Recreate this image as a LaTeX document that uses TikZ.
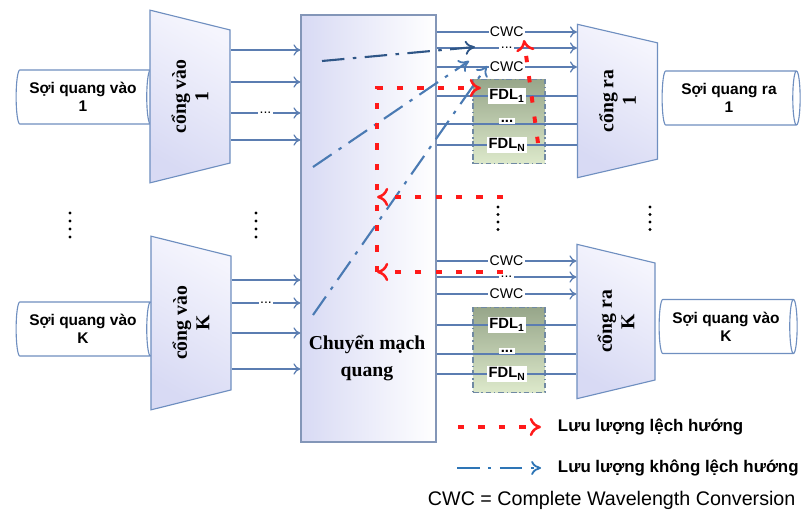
\documentclass[tikz,border=0pt]{standalone}
\usepackage{fontspec}
\setmainfont{Liberation Serif}
\setsansfont{Liberation Sans}
\usetikzlibrary{shapes.geometric,arrows.meta}
\definecolor{edge}{HTML}{6F8FC0}
\definecolor{wirec}{HTML}{5B7DB1}
\definecolor{lav}{HTML}{D8DAF4}
\definecolor{lavtop}{HTML}{F5F5FD}
\definecolor{swedge}{HTML}{8396B8}
\definecolor{fdltop}{HTML}{97A68A}
\definecolor{fdlbot}{HTML}{DDE9CB}
\definecolor{fdledge}{HTML}{7089A3}
\definecolor{deflred}{HTML}{FF1A1A}
\definecolor{trafblue}{HTML}{4A7AB3}
\definecolor{trafdark}{HTML}{2F5687}
\definecolor{legblue}{HTML}{2E75B6}
\begin{document}
\begin{tikzpicture}[x=0.025cm, y=-0.025cm,
  fibre/.style={cylinder, draw=edge, fill=white, line width=0.8pt, aspect=0.25,
    minimum width=1.35cm, minimum height=3.45cm, inner sep=0pt, align=center,
    font=\sffamily\bfseries\fontsize{11}{13}\selectfont},
  port/.style={trapezium, trapezium stretches=true, trapezium left angle=105,
    trapezium right angle=105, rotate=90, draw=edge, line width=0.8pt,
    top color=lavtop, bottom color=lav, shading angle=-30, minimum height=2cm, align=center,
    font=\bfseries\fontsize{14}{16}\selectfont},
  wire/.style={draw=wirec, line width=0.9pt},
  tip/.style={-{Computer Modern Rightarrow[length=5pt,width=8pt]}},
  lbl/.style={fill=white, inner sep=1pt, font=\sffamily\fontsize{10}{12}\selectfont},
  fdlbox/.style={draw=fdledge, line width=0.8pt, dash pattern=on 4pt off 2pt on 1pt off 2pt,
    top color=fdltop, bottom color=fdlbot, minimum width=1.8cm, minimum height=2.12cm},
  fdllbl/.style={fill=white, inner sep=1pt, font=\sffamily\bfseries\fontsize{10.5}{12}\selectfont},
  defl/.style={draw=deflred, line width=2.8pt, dash pattern=on 4.5pt off 10pt,
    -{Computer Modern Rightarrow[length=8pt,width=13pt,line width=1.8pt]}},
  undefl/.style={line width=1.5pt, dash pattern=on 16pt off 6pt on 2.5pt off 6pt,
    -{Computer Modern Rightarrow[length=7pt,width=10pt,line width=1.3pt]}},
  legtxt/.style={anchor=west, font=\sffamily\bfseries\fontsize{12}{14}\selectfont}]
\useasboundingbox (0,0) rectangle (804,512);

% optical switch
\node[draw=swedge, line width=0.8pt, left color=lav, right color=white,
  minimum width=3.375cm, minimum height=10.675cm] (sw) at (368.5,228.5) {};
\node[font=\bfseries\fontsize{14}{19}\selectfont, align=center] (swtext) at (367,358) {Chuyển mạch\\quang};

% input side
\node[fibre] (fin1) at (83,97) {Sợi quang vào\\1};
\node[fibre] (finK) at (83,329) {Sợi quang vào\\K};
\node[port, minimum width=4.325cm] (pin1) at (190,96.5) {cổng vào\\1};
\node[port, minimum width=4.35cm] (pinK) at (191,323) {cổng vào\\K};

\draw[wire,tip] (pin1.south |- 0,50) -- (sw.west |- 0,50);
\draw[wire,tip] (pin1.south |- 0,82) -- (sw.west |- 0,82);
\draw[wire,tip] (pin1.south |- 0,113) -- (sw.west |- 0,113) node[lbl,pos=.5] {...};
\draw[wire,tip] (pin1.south |- 0,140) -- (sw.west |- 0,140);
\draw[wire,tip] (pinK.south |- 0,280) -- (sw.west |- 0,280);
\draw[wire,tip] (pinK.south |- 0,303) -- (sw.west |- 0,303) node[lbl,pos=.5] {...};
\draw[wire,tip] (pinK.south |- 0,333) -- (sw.west |- 0,333);
\draw[wire,tip] (pinK.south |- 0,369) -- (sw.west |- 0,369);

% output side
\node[port, minimum width=3.85cm, trapezium left angle=104, trapezium right angle=104] (pout1) at (617.5,101) {cổng ra\\1};
\node[port, minimum width=3.875cm, minimum height=1.95cm, trapezium left angle=104, trapezium right angle=104] (poutK) at (616,321.5) {cổng ra\\K};
\node[fibre] (fout1) at (729,98) {Sợi quang ra\\1};
\node[fibre] (foutK) at (726,326.5) {Sợi quang vào\\K};

\node[fdlbox] (fdlA) at (509,121.5) {};
\node[fdlbox] (fdlB) at (509,350) {};

\draw[wire,tip] (sw.east |- 0,32) -- (pout1.north |- 0,32) node[lbl,pos=.5] {CWC};
\draw[wire,tip] (sw.east |- 0,48) -- (pout1.north |- 0,48) node[lbl,pos=.5] {...};
\draw[wire,tip] (sw.east |- 0,67) -- (pout1.north |- 0,67) node[lbl,pos=.5] {CWC};
\foreach \y in {96,124,145}
  \draw[wire] (sw.east |- 0,\y) -- (pout1.north |- 0,\y);
\draw[wire,tip] (sw.east |- 0,261) -- (poutK.north |- 0,261) node[lbl,pos=.5] {CWC};
\draw[wire,tip] (sw.east |- 0,277) -- (poutK.north |- 0,277) node[lbl,pos=.5] {...};
\draw[wire,tip] (sw.east |- 0,294) -- (poutK.north |- 0,294) node[lbl,pos=.5] {CWC};
\foreach \y in {325,354,374}
  \draw[wire] (sw.east |- 0,\y) -- (poutK.north |- 0,\y);

\node[fdllbl] (fa1) at (507,96) {FDL\textsubscript{1}};
\node[fdllbl] (fa2) at (507,121) {...};
\node[fdllbl] (faN) at (507,145) {FDL\textsubscript{N}};
\node[fdllbl] (fb1) at (507,325) {FDL\textsubscript{1}};
\node[fdllbl] (fb2) at (507,351) {...};
\node[fdllbl] (fbN) at (507,374) {FDL\textsubscript{N}};

% vertical dots
\foreach \x in {70,256}
  \foreach \y in {213,221,229,237}
    \fill (\x,\y) circle (1.2pt);
\foreach \x in {498,650}
  \foreach \y in {207,214.5,222,229.5}
    \fill (\x,\y) circle (1.2pt);

% traffic
\coordinate (bA0) at (322,61);  \coordinate (bA1) at (475,47);
\coordinate (bB0) at (313,167); \coordinate (bB1) at (469,61);
\coordinate (bC0) at (313,315); \coordinate (bC1) at (487,66);
\draw[undefl, trafdark] (bA0) -- (bA1);
\draw[undefl, trafblue] (bB0) -- (bB1);
\draw[undefl, trafblue] (bC0) -- (bC1);

\coordinate (rLow) at (503,272); \coordinate (rLowC) at (377,272);
\coordinate (rMid) at (503,197); \coordinate (rMidC) at (377,197);
\coordinate (rTop) at (377,88);  \coordinate (rFdl) at (481,88);
\coordinate (rUp0) at (538,143); \coordinate (rUp1) at (524,40);
\draw[defl] (rLow) -- (rLowC);
\draw[defl] (rMid) -- (rMidC);
\draw[defl] (rLowC) -- (rTop) -- (rFdl);
\draw[defl] (rUp0) -- (rUp1);

% legend
\coordinate (lr0) at (458,427); \coordinate (lr1) at (541,427);
\coordinate (lb0) at (457,468); \coordinate (lb1) at (541,468);
\draw[defl] (lr0) -- (lr1);
\draw[undefl, legblue] (lb0) -- (lb1);
\node[legtxt] (lrt) at (553,427) {Lưu lượng lệch hướng};
\node[legtxt] (lbt) at (553,468) {Lưu lượng không lệch hướng};
\node[anchor=west, font=\sffamily\fontsize{14}{16}\selectfont] (cwc) at (423,500) {CWC = Complete Wavelength Conversion};
\end{tikzpicture}
\end{document}
